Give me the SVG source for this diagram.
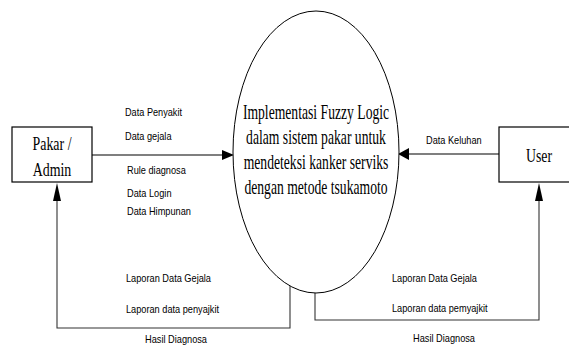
<svg xmlns="http://www.w3.org/2000/svg" width="569" height="351" viewBox="0 0 569 351">
<style>
.box{fill:#fff;stroke:#000;stroke-width:1.2}
.ell{fill:#fff;stroke:#000;stroke-width:1}
.ser{font-family:"Liberation Serif","Times New Roman",serif;fill:#000}
.lbl{font-family:"Liberation Sans",Arial,sans-serif;font-size:11.5px;fill:#000}
.ln{fill:none;stroke:#000;stroke-width:1.1}
.ln2{fill:none;stroke:#333;stroke-width:1.1}
.ah{fill:#000;stroke:none}
</style>
<rect width="569" height="351" fill="#fff"/>
<g id="connectors">
<line class="ln" x1="92" y1="155" x2="223" y2="155"/>
<polygon class="ah" points="234,155 222,150 222,160"/>
<line class="ln" x1="499" y1="154" x2="408" y2="154"/>
<polygon class="ah" points="398,154 409,148 409,160"/>
<path class="ln2" d="M290,286 V328 H57 V200"/>
<polygon class="ah" points="57,183 53,201 61,201"/>
<path class="ln2" d="M315,293 V320 H539 V200"/>
<polygon class="ah" points="539,183 535,201 543,201"/>
<text class="lbl" x="125" y="116" textLength="57" lengthAdjust="spacingAndGlyphs">Data Penyakit</text>
<text class="lbl" x="125" y="140" textLength="46.5" lengthAdjust="spacingAndGlyphs">Data gejala</text>
<text class="lbl" x="127" y="174" textLength="58.8" lengthAdjust="spacingAndGlyphs">Rule diagnosa</text>
<text class="lbl" x="127" y="197" textLength="44.5" lengthAdjust="spacingAndGlyphs">Data Login</text>
<text class="lbl" x="127" y="215" textLength="63.9" lengthAdjust="spacingAndGlyphs">Data Himpunan</text>
<text class="lbl" x="426" y="144" textLength="55.7" lengthAdjust="spacingAndGlyphs">Data Keluhan</text>
<text class="lbl" x="126" y="282" textLength="85" lengthAdjust="spacingAndGlyphs">Laporan Data Gejala</text>
<text class="lbl" x="126" y="313" textLength="93" lengthAdjust="spacingAndGlyphs">Laporan data penyajkit</text>
<text class="lbl" x="145" y="343" textLength="62" lengthAdjust="spacingAndGlyphs">Hasil Diagnosa</text>
<text class="lbl" x="392" y="282" textLength="85" lengthAdjust="spacingAndGlyphs">Laporan Data Gejala</text>
<text class="lbl" x="392" y="312" textLength="95.6" lengthAdjust="spacingAndGlyphs">Laporan data pemyajkit</text>
<text class="lbl" x="413" y="342" textLength="62" lengthAdjust="spacingAndGlyphs">Hasil Diagnosa</text>
</g>
<g id="pakar">
<rect class="box" x="12" y="127" width="80" height="55"/>
<text class="ser" font-size="19" x="52" y="150" text-anchor="middle" textLength="39" lengthAdjust="spacingAndGlyphs">Pakar /</text>
<text class="ser" font-size="19" x="52" y="176" text-anchor="middle" textLength="38.6" lengthAdjust="spacingAndGlyphs">Admin</text>
</g>
<g id="user">
<rect class="box" x="499" y="127" width="80" height="55"/>
<text class="ser" font-size="19" x="539" y="162" text-anchor="middle" textLength="26" lengthAdjust="spacingAndGlyphs">User</text>
</g>
<g id="process">
<ellipse class="ell" cx="316" cy="152" rx="83" ry="141"/>
<g transform="translate(316,0) scale(0.65,1)">
<text class="ser" font-size="21" x="0" y="119" text-anchor="middle">Implementasi Fuzzy Logic</text>
<text class="ser" font-size="21" x="0" y="144" text-anchor="middle">dalam sistem pakar untuk</text>
<text class="ser" font-size="21" x="0" y="169" text-anchor="middle">mendeteksi kanker serviks</text>
<text class="ser" font-size="21" x="0" y="194" text-anchor="middle">dengan metode tsukamoto</text>
</g>
</g>
</svg>
